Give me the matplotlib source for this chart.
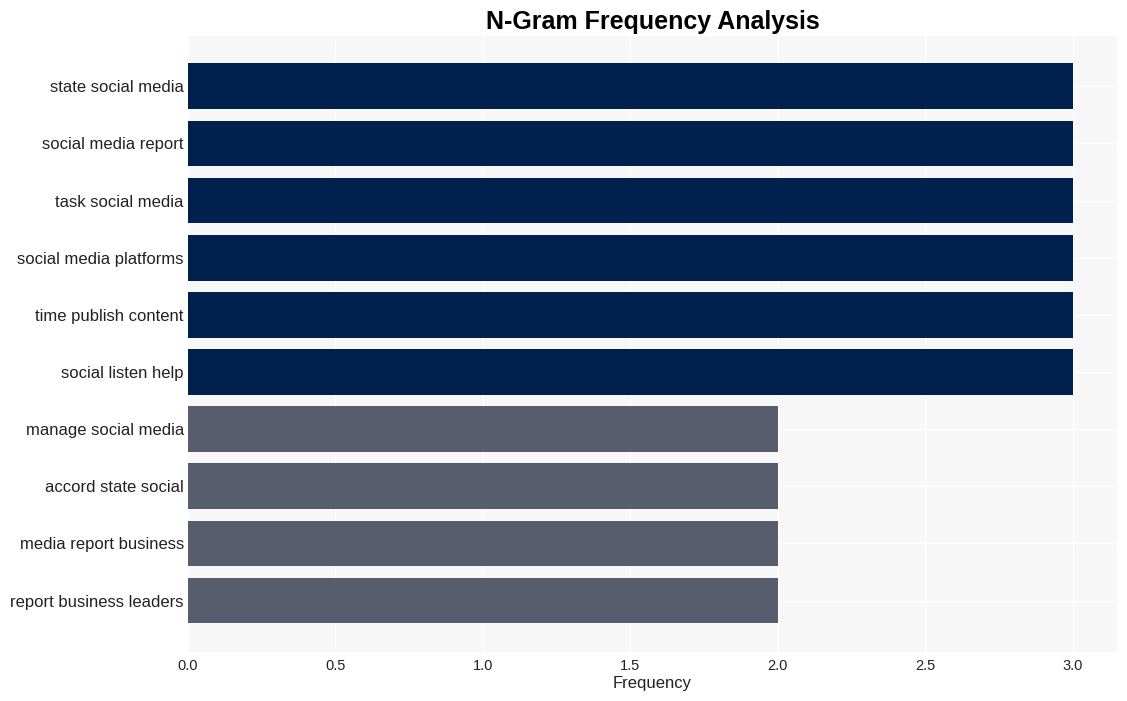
import matplotlib.pyplot as plt
import numpy as np

plt.rcParams["font.family"] = ["Liberation Sans", "DejaVu Sans"]

ngrams = [
    "state social media",
    "social media report",
    "task social media",
    "social media platforms",
    "time publish content",
    "social listen help",
    "manage social media",
    "accord state social",
    "media report business",
    "report business leaders",
]
counts = [3, 3, 3, 3, 3, 3, 2, 2, 2, 2]

NAVY = "#00214d"
GRAY = "#585d6d"

fig = plt.figure(figsize=(11.27, 7.01), dpi=100)
ax = fig.add_axes([0.1668, 0.0699, 0.8243, 0.8787])
ax.set_facecolor("#f7f7f7")

y = np.arange(len(ngrams))
colors = [NAVY if c >= 3 else GRAY for c in counts]
ax.barh(y, counts, height=0.8, color=colors, zorder=2)

ax.set_yticks(y)
ax.set_yticklabels(ngrams, fontsize=12, color="#222222")
ax.set_ylim(len(ngrams) - 1 + 0.9, -0.88)
ax.set_xlim(0, 3.15)
ax.set_xticks([0, 0.5, 1.0, 1.5, 2.0, 2.5, 3.0])
ax.set_xticklabels(["0.0", "0.5", "1.0", "1.5", "2.0", "2.5", "3.0"], fontsize=10.5, color="#222222")
ax.tick_params(axis="y", length=0, pad=3)
ax.tick_params(axis="x", length=0, pad=5)
ax.grid(True, color="white", linewidth=1.0, zorder=0)
ax.set_axisbelow(True)
for s in ax.spines.values():
    s.set_visible(False)

ax.set_xlabel("Frequency", fontsize=12, color="#222222", labelpad=2)
ax.set_title("N-Gram Frequency Analysis", fontsize=18, fontweight="bold", pad=5)

fig.savefig("out.png", dpi=100)
